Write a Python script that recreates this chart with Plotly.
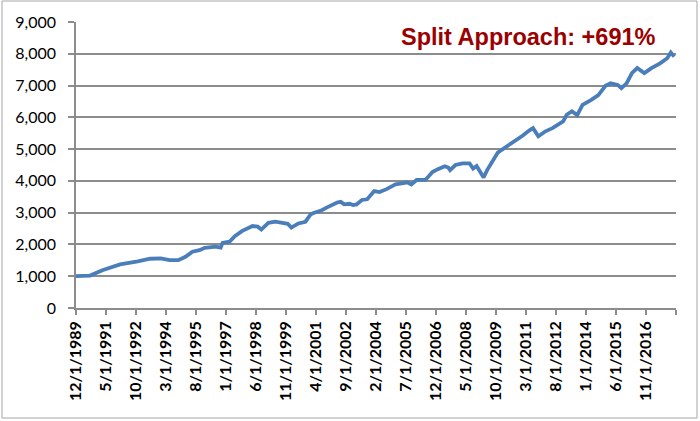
import plotly.graph_objects as go

dates = [
    "1989-12-01", "1990-08-01", "1991-03-01", "1992-01-01", "1992-11-01", "1993-06-01",
    "1993-12-01", "1994-05-01", "1994-10-01", "1995-02-01", "1995-06-01", "1995-10-01",
    "1996-01-01", "1996-07-01", "1996-10-01", "1996-11-01", "1997-03-01", "1997-06-01",
    "1997-10-01", "1998-04-01", "1998-07-01", "1998-09-01", "1999-01-01", "1999-05-01",
    "1999-09-01", "1999-12-01", "2000-02-01", "2000-06-01", "2000-10-01", "2001-01-01",
    "2001-03-01", "2001-07-01", "2001-10-01", "2002-04-01", "2002-06-01", "2002-08-01",
    "2002-11-01", "2003-01-01", "2003-03-01", "2003-06-01", "2003-09-01", "2004-01-01",
    "2004-04-01", "2004-08-01", "2005-01-01", "2005-05-01", "2005-08-01", "2005-10-01",
    "2006-01-01", "2006-06-01", "2006-10-01", "2007-01-01", "2007-05-01", "2007-07-01",
    "2007-08-01", "2007-11-01", "2008-03-01", "2008-07-01", "2008-09-01", "2008-11-01",
    "2009-01-01", "2009-03-01", "2009-05-01", "2009-08-01", "2009-11-01", "2010-01-01",
    "2010-04-01", "2010-07-01", "2010-10-01", "2011-01-01", "2011-05-01", "2011-07-01",
    "2011-10-01", "2012-02-01", "2012-06-01", "2012-09-01", "2012-12-01", "2013-02-01",
    "2013-05-01", "2013-08-01", "2013-11-01", "2014-04-01", "2014-08-01", "2014-12-01",
    "2015-03-01", "2015-07-01", "2015-09-01", "2015-12-01", "2016-03-01", "2016-06-01",
    "2016-10-01", "2017-02-01", "2017-07-01", "2017-11-01", "2018-01-01", "2018-03-01",
]
values = [
    1000, 1020, 1190, 1370, 1470, 1550,
    1560, 1505, 1505, 1610, 1770, 1820,
    1895, 1930, 1900, 2050, 2085, 2260,
    2420, 2580, 2560, 2470, 2680, 2715,
    2680, 2650, 2530, 2660, 2715, 2950,
    3000, 3070, 3160, 3320, 3340, 3260,
    3280, 3240, 3260, 3400, 3420, 3680,
    3650, 3740, 3890, 3930, 3950, 3890,
    4030, 4030, 4280, 4370, 4460, 4420,
    4340, 4500, 4550, 4550, 4390, 4470,
    4290, 4110, 4340, 4600, 4890, 4970,
    5080, 5160, 5290, 5420, 5590, 5660,
    5400, 5560, 5660, 5770, 5870, 6080,
    6190, 6070, 6390, 6550, 6700, 6990,
    7070, 7020, 6920, 7070, 7390, 7550,
    7390, 7550, 7700, 7860, 8040, 7910,
]

tick_dates = [
    "1989-12-01", "1991-05-01", "1992-10-01", "1994-03-01", "1995-08-01", "1997-01-01",
    "1998-06-01", "1999-11-01", "2001-04-01", "2002-09-01", "2004-02-01", "2005-07-01",
    "2006-12-01", "2008-05-01", "2009-10-01", "2011-03-01", "2012-08-01", "2014-01-01",
    "2015-06-01", "2016-11-01", "2018-04-01",
]
tick_labels = [
    "12/1/1989", "5/1/1991", "10/1/1992", "3/1/1994", "8/1/1995", "1/1/1997",
    "6/1/1998", "11/1/1999", "4/1/2001", "9/1/2002", "2/1/2004", "7/1/2005",
    "12/1/2006", "5/1/2008", "10/1/2009", "3/1/2011", "8/1/2012", "1/1/2014",
    "6/1/2015", "11/1/2016", "",
]
title_text = "Split Approach: +691%"

fig = go.Figure()
fig.add_trace(go.Scatter(
    x=dates, y=values, mode="lines",
    line=dict(color="#4a7ebb", width=3.8),
    hoverinfo="skip", showlegend=False,
))

grid = "#8c8c8c"
fig.update_layout(
    width=700, height=421,
    margin=dict(l=76, r=24, t=22, b=113),
    paper_bgcolor="white", plot_bgcolor="white",
    font=dict(family="Lato, Open Sans, sans-serif", color="black", size=14),
    xaxis=dict(
        type="date",
        range=["1989-12-01", "2018-04-01"],
        tickmode="array", tickvals=tick_dates, ticktext=tick_labels,
        tickangle=-90,
        tickfont=dict(family="Lato", size=16, color="black", weight="bold"),
        showgrid=False, showline=True, linecolor=grid, linewidth=1.5,
        ticks="outside", ticklen=5, tickcolor=grid, tickwidth=1.5,
        zeroline=False,
    ),
    yaxis=dict(
        range=[0, 9000], dtick=1000, tickformat=",",
        tickfont=dict(family="Lato", size=16, color="black"),
        ticklabelstandoff=9,
        showgrid=True, gridcolor=grid, gridwidth=1.5,
        showline=True, linecolor=grid, linewidth=1.5,
        ticks="outside", ticklen=6, tickcolor=grid, tickwidth=1.5,
        zeroline=False,
    ),
    annotations=[dict(
        text=title_text, xref="paper", yref="paper",
        x=(528 - 76) / 600, y=(308 - 37) / 286,
        xanchor="center", yanchor="middle", showarrow=False,
        font=dict(family="Liberation Sans, Arial", size=23.5, color="#9b0000", weight="bold"),
    )],
    shapes=[dict(
        type="rect", xref="paper", yref="paper",
        x0=(2 - 76) / 600, x1=(697 - 76) / 600,
        y0=(308 - 418) / 286, y1=(308 - 1) / 286,
        line=dict(color="#a6a6a6", width=1), fillcolor="rgba(0,0,0,0)",
        layer="below",
    )],
)

fig.write_html("out.html")
